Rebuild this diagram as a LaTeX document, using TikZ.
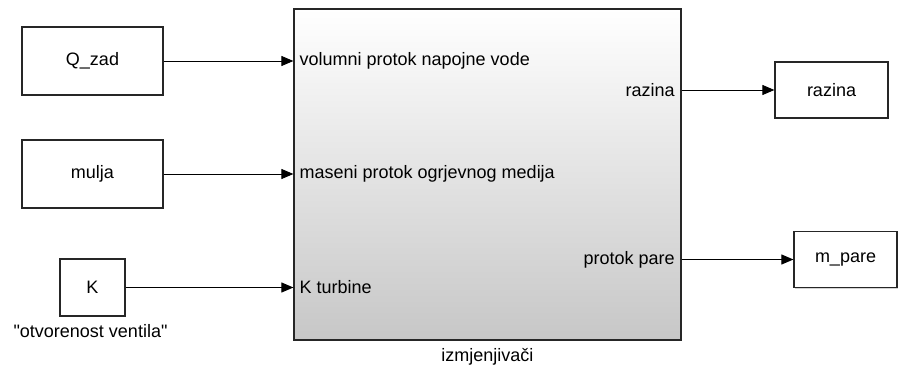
\documentclass[tikz,border=0pt]{standalone}
\usepackage{fontspec}
\setmainfont{Liberation Sans}
\usetikzlibrary{positioning,arrows.meta,shadows}
\tikzset{
>={Triangle[length=9pt,width=7.5pt]},
  blok/.style={
    rectangle,
    draw=black!85, line width=0.9pt,
    fill=white,
    drop shadow={shadow xshift=1pt, shadow yshift=-1pt, opacity=0.35},
    inner sep=0pt,
    font=\fontsize{13.5}{16}\selectfont},
  sustav/.style={
    blok,
    top color=white,
    bottom color=black!22},
  ulaz/.style={anchor=west, inner xsep=4.5pt, inner ysep=1.5pt, font=\fontsize{13.5}{16}\selectfont},
  izlaz/.style={anchor=east, inner xsep=4.5pt, inner ysep=1.5pt, font=\fontsize{13.5}{16}\selectfont},
  opis/.style={inner sep=1pt, font=\fontsize{13.5}{16}\selectfont},
  veza/.style={draw, ->, line width=0.75pt},
}
\begin{document}
\begin{tikzpicture}[x=0.75pt, y=-0.75pt, node distance=4pt]
  \useasboundingbox (0,0) rectangle (898,372);
  % ulazni blokovi
  \node[blok, minimum width=105.75pt, minimum height=51pt] (qzad) at (92.5,61) {Q\_zad};
  \node[blok, minimum width=105.75pt, minimum height=51pt] (mulja) at (92.5,174) {mulja};
  \node[blok, minimum width=48.75pt, minimum height=42.75pt] (kvent) at (92.5,287.5) {K};
  \node[opis, below=5pt of kvent, xshift=-1.5pt] (kopis) {\textquotedbl otvorenost ventila\textquotedbl};

  % podsustav
  \node[sustav, minimum width=290.25pt, minimum height=248.25pt] (izmj) at (487.5,174.5) {};
  \node[opis, below=5pt of izmj] (izmjopis) {izmjenjivači};
  \node[ulaz] (pvol) at (izmj.west |- qzad) {volumni protok napojne vode};
  \node[ulaz] (pmas) at (izmj.west |- mulja) {maseni protok ogrjevnog medija};
  \node[ulaz] (pkt) at (izmj.west |- kvent) {K turbine};
  \node[izlaz] (praz) at (681,90) {razina};
  \node[izlaz] (ppar) at (681,259.5) {protok pare};

  % izlazni blokovi
  \node[blok, minimum width=84.75pt, minimum height=42pt] (razina) at (831.5,90) {razina};
  \node[blok, minimum width=77.25pt, minimum height=41.6pt] (mpare) at (845.5,259.5) {m\_pare};

  \draw[veza] (qzad) -- (qzad -| izmj.west);
  \draw[veza] (mulja) -- (mulja -| izmj.west);
  \draw[veza] (kvent) -- (kvent -| izmj.west);
  \draw[veza] (izmj.east |- praz) -- (razina.west);
  \draw[veza] (izmj.east |- ppar) -- (mpare.west);
\end{tikzpicture}
\end{document}
